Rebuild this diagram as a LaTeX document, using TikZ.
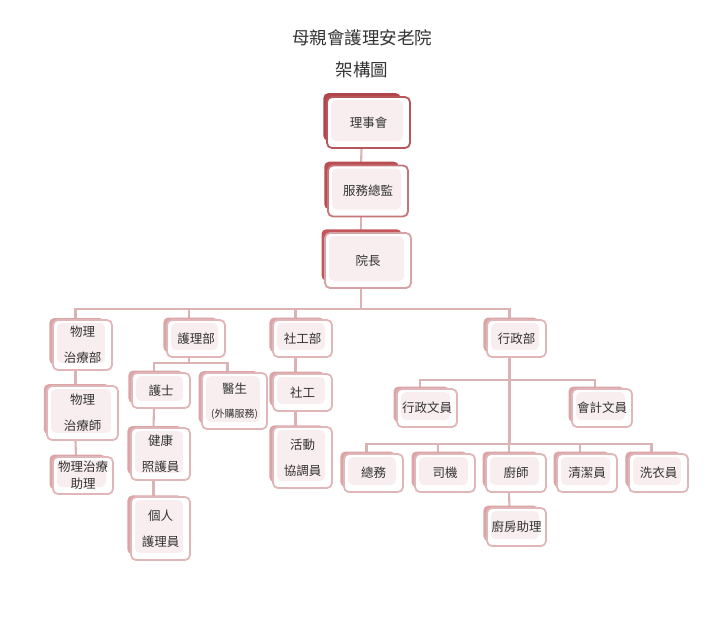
\documentclass[tikz,border=0pt]{standalone}
\usepackage{fontspec}
\newfontfamily\cjk{Noto Sans CJK TC}
\usetikzlibrary{shadows,backgrounds}

\definecolor{boardline}{HTML}{B8565B}
\definecolor{boardshade}{HTML}{B0464B}
\definecolor{dirline}{HTML}{C4767A}
\definecolor{dirshade}{HTML}{B94E53}
\definecolor{headline}{HTML}{D6A2A5}
\definecolor{headshade}{HTML}{C4575C}
\definecolor{lowshade}{HTML}{DBA5A8}
\definecolor{lowline}{HTML}{E0B6B8}
\definecolor{innerpink}{HTML}{F8EEEF}
\definecolor{linkcol}{HTML}{DAB3B5}
\definecolor{txtcol}{HTML}{333333}

\tikzset{
  unit/.style={rectangle, rounded corners=5pt, line width=1.8pt, fill=white,
    text=txtcol, align=center, inner sep=0pt,
    font=\cjk\fontsize{12.5}{26}\selectfont,
    path picture={\fill[innerpink]
      ([shift={(4pt,-3pt)}]path picture bounding box.north west) rectangle
      ([shift={(-7pt,7pt)}]path picture bounding box.south east);}},
  topunit/.style 2 args={unit, draw=#1,
    general shadow={fill=#2, shadow xshift=-7pt, shadow yshift=6pt, shadow scale=0.93}},
  lowunit/.style={unit, draw=lowline,
    general shadow={fill=lowshade, shadow xshift=-6pt, shadow yshift=4pt, shadow scale=0.93}},
  wh/.style 2 args={minimum width=#1pt, minimum height=#2pt},
  link/.style={draw=linkcol, line width=2.1pt},
  title/.style={text=txtcol, font=\cjk\fontsize{17.5}{20}\selectfont},
}

\begin{document}
\begin{tikzpicture}[x=1pt, y=-1pt]
  \def\dx{-7pt} % deslocamento dos conectores
  \useasboundingbox (0,0) rectangle (720,616);

  % titulo
  \node[title] (t1) at (362,38) {母親會護理安老院};
  \node[title] (t2) at (362,70) {架構圖};

  % --- topo ---
  \node[topunit={boardline}{boardshade}, wh={83}{51}] (A) at (368.5,122.5) {理事會};
  \node[topunit={dirline}{dirshade}, wh={80}{51}] (B) at (368,191) {服務總監};
  \node[topunit={headline}{headshade}, wh={86}{55}] (C) at (368,260.5) {院長};

  % --- departamentos ---
  \node[lowunit, wh={59}{50}] (pt1) at (82.5,345) {物理\\治療部};
  \node[lowunit, wh={58}{37}] (nd) at (196,338.5) {護理部};
  \node[lowunit, wh={59}{37}] (sw) at (302.5,338.5) {社工部};
  \node[lowunit, wh={59}{37}] (ad) at (516.5,338.5) {行政部};

  %物理
  \node[lowunit, wh={71}{54}] (pt2) at (82.5,413) {物理\\治療師};
  \node[lowunit, wh={60}{37}, font=\cjk\fontsize{12.5}{17}\selectfont]
    (pt3) at (83,475.5) {物理治療\\助理};

  % 護理
  \node[lowunit, wh={58}{35}] (nurse) at (161,390.5) {護士};
  \node[lowunit, wh={65}{56}, font=\cjk\fontsize{12.5}{24}\selectfont]
    (doc) at (234.5,401) {醫生\\{\fontsize{10}{12}\selectfont(外購服務)}};
  \node[lowunit, wh={59}{52}] (hc) at (160.5,454) {健康\\照護員};
  \node[lowunit, wh={59}{63}] (pc) at (160.5,528.5) {個人\\護理員};

  % 社工
  \node[lowunit, wh={59}{37}] (swk) at (302.5,392.5) {社工};
  \node[lowunit, wh={59}{61}] (act) at (302.5,457.5) {活動\\協調員};

  % 行政
  \node[lowunit, wh={60}{38}] (adc) at (427,408) {行政文員};
  \node[lowunit, wh={60}{38}] (acc) at (602,408) {會計文員};
  \node[lowunit, wh={59}{38}] (ga) at (373.5,473) {總務};
  \node[lowunit, wh={60}{38}] (drv) at (445,473) {司機};
  \node[lowunit, wh={60}{38}] (chef) at (516,473) {廚師};
  \node[lowunit, wh={60}{38}] (cln) at (587,473) {清潔員};
  \node[lowunit, wh={59}{38}] (ldy) at (658.5,473) {洗衣員};
  \node[lowunit, wh={59}{38}] (kit) at (516.5,527) {廚房助理};

  % --- conectores ---
  \begin{scope}[on background layer]
    \draw[link] ([xshift=\dx]A.south) -- ([xshift=\dx]B.north);
    \draw[link] ([xshift=\dx]B.south) -- ([xshift=\dx]C.north);
    \foreach \d in {pt1,nd,sw,ad}
      \draw[link] ([xshift=\dx]C.south) -- ++(0,20) -| ([xshift=\dx]\d.north);

    \draw[link] ([xshift=\dx]pt1.south) -- ([xshift=\dx]pt2.north);
    \draw[link] ([xshift=\dx]pt2.south) -- ([xshift=\dx]pt3.north);

    \foreach \d in {nurse,doc}
      \draw[link] ([xshift=\dx]nd.south) -- ++(0,5) -| ([xshift=\dx]\d.north);
    \draw[link] ([xshift=\dx]nurse.south) -- ([xshift=\dx]hc.north);
    \draw[link] ([xshift=\dx]hc.south) -- ([xshift=\dx]pc.north);

    \draw[link] ([xshift=\dx]sw.south) -- ([xshift=\dx]swk.north);
    \draw[link] ([xshift=\dx]swk.south) -- ([xshift=\dx]act.north);

    \foreach \d in {adc,acc}
      \draw[link] ([xshift=\dx]ad.south) -- ++(0,22) -| ([xshift=\dx]\d.north);
    \foreach \d in {ga,drv,chef,cln,ldy}
      \draw[link] ([xshift=\dx]ad.south) -- ++(0,86) -| ([xshift=\dx]\d.north);
    \draw[link] ([xshift=\dx]chef.south) -- ([xshift=\dx]kit.north);
  \end{scope}
\end{tikzpicture}
\end{document}
